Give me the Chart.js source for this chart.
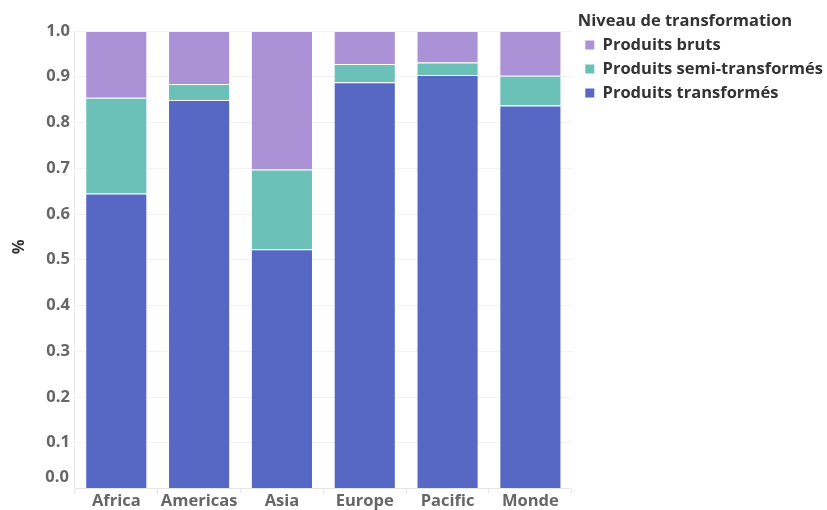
<!DOCTYPE html>
<html>
<head>
<meta charset="utf-8">
<script src="https://cdn.jsdelivr.net/npm/chart.js@4"></script>
<style>
html,body{margin:0;padding:0;background:#fff;}
#wrap{width:827px;height:510px;position:relative;}
</style>
</head>
<body>
<div id="wrap"><canvas id="c" width="827" height="510"></canvas></div>
<script>
const categories = ["Africa", "Americas", "Asia", "Europe", "Pacific", "Monde"];
const produitsTransformes = [0.645, 0.849, 0.523, 0.888, 0.904, 0.837];
const produitsSemiTransformes = [0.209, 0.035, 0.174, 0.040, 0.027, 0.065];
const produitsBruts = [0.146, 0.116, 0.303, 0.072, 0.069, 0.098];
const yTicks = [0, 0.1, 0.2, 0.3, 0.4, 0.5, 0.6, 0.7, 0.8, 0.9, 1.0];
const legendTitle = "Niveau de transformation";
const yTitle = "%";

const FONT = "'Open Sans'";
const FS = 16.5;
const zeroLabelPlugin = {
  id: 'zeroLabel',
  afterLayout(chart) {
    if (chart.legend) { chart.legend.left += 6; }
  },
  afterDraw(chart) {
    const y = chart.scales.y;
    const ctx = chart.ctx;
    ctx.save();
    ctx.font = "bold " + FS + "px " + FONT;
    ctx.fillStyle = "#666666";
    ctx.textAlign = "right";
    ctx.textBaseline = "middle";
    ctx.fillText(yTicks[0].toFixed(1), y.right - 6, y.getPixelForValue(0) - 11);
    ctx.restore();
  }
};

function build() {
  new Chart(document.getElementById('c'), {
    type: 'bar',
    data: {
      labels: categories,
      datasets: [
        { label: "Produits transformés", data: produitsTransformes, backgroundColor: "#5768c4", borderColor: "rgba(255,255,255,0.18)", borderWidth: 1 },
        { label: "Produits semi-transformés", data: produitsSemiTransformes, backgroundColor: "#6bc1b8", borderColor: "rgba(255,255,255,0.18)", borderWidth: 1 },
        { label: "Produits bruts", data: produitsBruts, backgroundColor: "#ab91d5", borderColor: "rgba(255,255,255,0.18)", borderWidth: 1 }
      ]
    },
    options: {
      responsive: false,
      animation: false,
      layout: { padding: { left: 5.5, top: 0, bottom: 0, right: 0 } },
      datasets: { bar: { barPercentage: 0.75, categoryPercentage: 1.0 } },
      plugins: {
        tooltip: { enabled: false },
        title: { display: true, text: ' ', fullSize: false, font: { size: 10, lineHeight: 1 }, padding: { top: 21, bottom: 0 } },
        legend: {
          position: 'right',
          align: 'start',
          maxWidth: 400,
          title: { display: true, text: legendTitle, position: 'start', color: "#333333", font: { family: FONT, size: FS, weight: 'bold' }, padding: { top: 13.45, bottom: -4 } },
          labels: {
            boxWidth: 9, boxHeight: 9, padding: 7.5,
            color: "#333333",
            font: { family: FONT, size: FS, weight: 'bold' },
            generateLabels(chart) {
              return chart.data.datasets.map((d, i) => ({
                text: d.label, fillStyle: d.backgroundColor, strokeStyle: d.backgroundColor, lineWidth: 0, datasetIndex: i, hidden: false
              })).reverse();
            }
          }
        }
      },
      scales: {
        x: {
          stacked: true,
          offset: true,
          grid: { display: true, drawOnChartArea: false, offset: true, tickLength: 5, color: "#e6e6e6" },
          border: { display: true, color: "#e6e6e6" },
          ticks: { color: "#666666", font: { family: FONT, size: FS, weight: 'bold', lineHeight: 1.0 }, padding: 0, maxRotation: 0 }
        },
        y: {
          stacked: true,
          min: 0, max: 1.0,
          afterBuildTicks(scale) { scale.ticks = yTicks.map(v => ({ value: v })); },
          grid: { color: "#f2f2f2", drawTicks: false },
          border: { display: true, color: "#ebebeb" },
          ticks: {
            color: "#666666", font: { family: FONT, size: FS, weight: 'bold' }, padding: 5,
            callback: (v) => v === 0 ? "" : Number(v).toFixed(1)
          },
          title: { display: true, text: "      " + yTitle, color: "#333333", font: { family: FONT, size: FS, weight: 'bold' }, padding: { top: 4, bottom: 12 } }
        }
      }
    },
    plugins: [zeroLabelPlugin]
  });
}
if (document.fonts && document.fonts.load) {
  Promise.all([
    document.fonts.load("bold 16px 'Open Sans'"),
    document.fonts.load("16px 'Open Sans'")
  ]).then(build, build);
} else { build(); }
</script>
</body>
</html>
